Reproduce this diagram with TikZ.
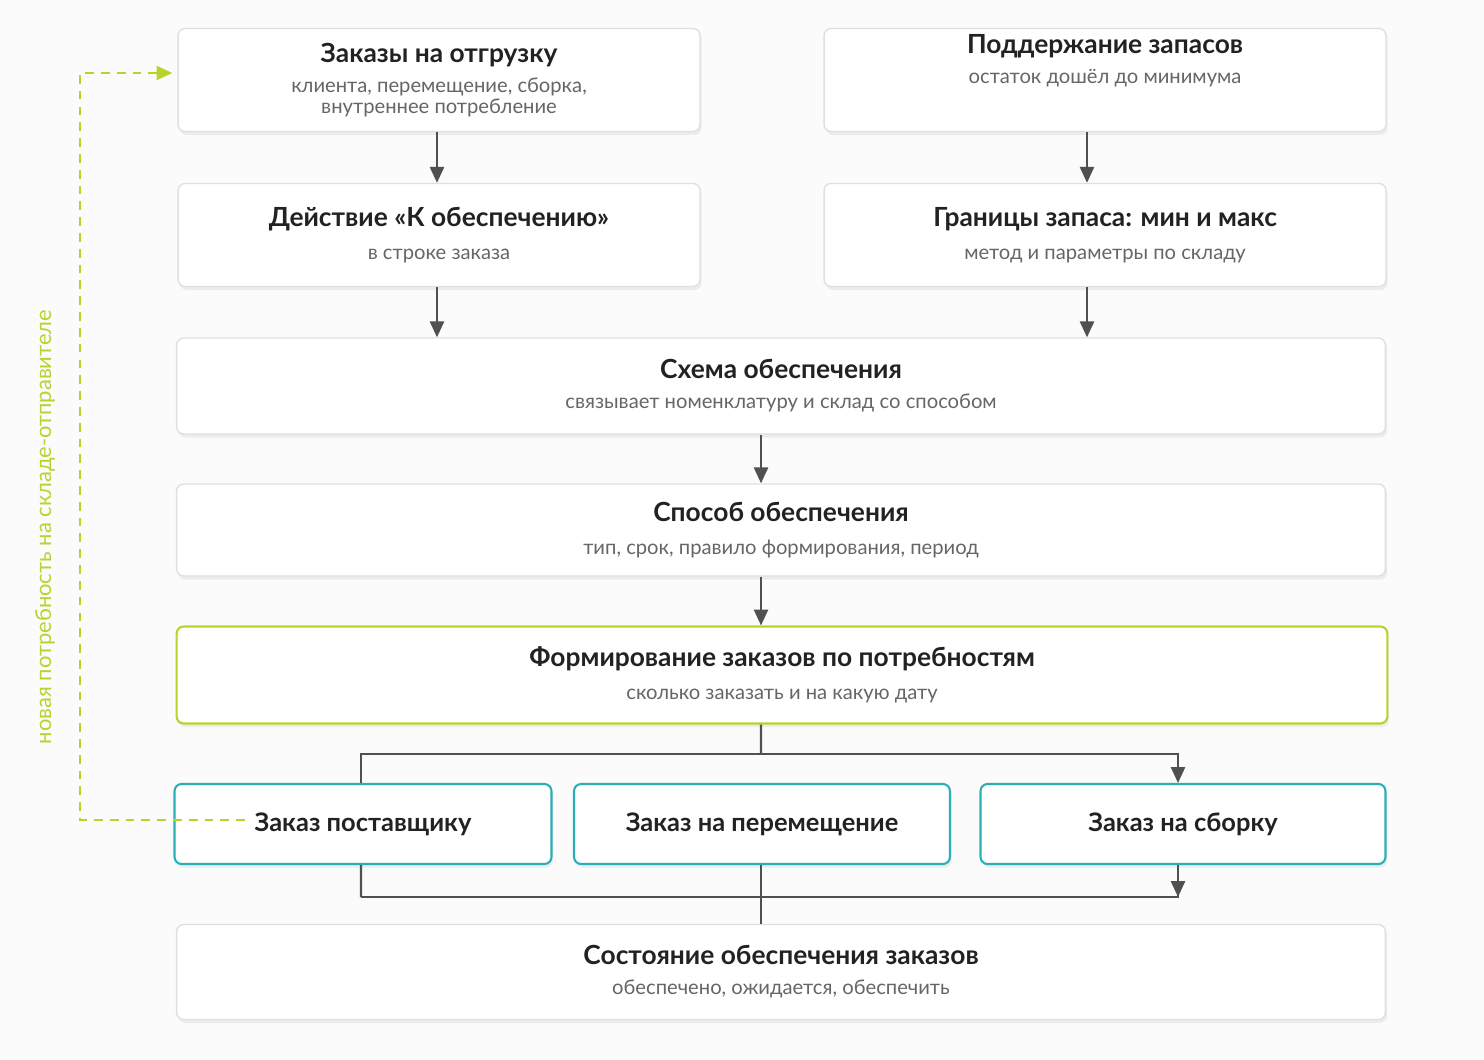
\documentclass[tikz,border=0pt]{standalone}
\usepackage{fontspec}
\setmainfont{Lato}
\usetikzlibrary{arrows.meta,shadows,calc}
\definecolor{ink}{HTML}{222222}
\definecolor{subink}{HTML}{666666}
\definecolor{lime}{HTML}{B7D42E}
\definecolor{teal}{HTML}{2BAFB6}
\definecolor{rule}{HTML}{505050}
\newcommand{\boxtitle}{\fontsize{15}{18}\selectfont\bfseries\color{ink}}
\newcommand{\boxsub}{\fontsize{11.5}{13.5}\selectfont\mdseries\color{subink}}
\begin{document}
\begin{tikzpicture}[x=0.02cm,y=-0.02cm]
  \tikzset{
    card/.style={draw=black!12, fill=white, rounded corners=4pt, line width=0.8pt,
      align=center, inner sep=0pt, drop shadow={opacity=0.12,shadow xshift=1pt,shadow yshift=-2pt}},
    pick/.style={card, draw=lime, line width=1.2pt},
    order/.style={card, draw=teal, line width=1.2pt, font=\fontsize{14.5}{17}\selectfont\bfseries\color{ink}, minimum height=1.6cm},
    arr/.style={draw=rule, line width=1.2pt, -{Triangle[length=9pt,width=8pt]}},
    wire/.style={draw=rule, line width=1.2pt},
    fback/.style={draw=lime, line width=1.2pt, dash pattern=on 5pt off 4pt}
  }
  \fill[white!97!gray] (0,0) rectangle (1484,1060);
  \useasboundingbox (0,0) rectangle (1484,1060);
  % upper cards
  \node[card, minimum width=10.44cm, minimum height=2.06cm] (ship) at (439,80)
    {\boxtitle Заказы на отгрузку\\[5pt]\boxsub клиента, перемещение, сборка,\\\boxsub внутреннее потребление};
  \node[card, minimum width=11.24cm, minimum height=2.06cm] (stock) at (1105,80)
    {\boxtitle Поддержание запасов\\[5pt]\boxsub остаток дошёл до минимума\\[12pt]};
  \node[card, minimum width=10.44cm, minimum height=2.06cm] (act) at (439,235)
    {\boxtitle Действие «К обеспечению»\\[7pt]\boxsub в строке заказа};
  \node[card, minimum width=11.24cm, minimum height=2.06cm] (bounds) at (1105,235)
    {\boxtitle Границы запаса: мин и макс\\[7pt]\boxsub метод и параметры по складу};
  \node[card, minimum width=24.18cm, minimum height=1.92cm] (scheme) at (781,386)
    {\boxtitle Схема обеспечения\\[5pt]\boxsub связывает номенклатуру и склад со способом};
  \node[card, minimum width=24.18cm, minimum height=1.84cm] (way) at (781,530)
    {\boxtitle Способ обеспечения\\[7pt]\boxsub тип, срок, правило формирования, период};
  \node[pick, minimum width=24.22cm, minimum height=1.94cm] (form) at (782,675)
    {\boxtitle Формирование заказов по потребностям\\[7pt]\boxsub сколько заказать и на какую дату};
  % orders
  \node[order, minimum width=7.54cm] (sup) at (363,824) {Заказ поставщику};
  \node[order, minimum width=7.52cm] (move) at (762,824) {Заказ на перемещение};
  \node[order, minimum width=8.1cm] (asm) at (1183,824) {Заказ на сборку};
  \node[card, minimum width=24.18cm, minimum height=1.9cm] (state) at (781,972)
    {\boxtitle Состояние обеспечения заказов\\[5pt]\boxsub обеспечено, ожидается, обеспечить};
  % flow
  \draw[arr] ([xshift=-0.04cm]ship.south) -- ([xshift=-0.04cm]act.north);
  \draw[arr] ([xshift=-0.36cm]stock.south) -- ([xshift=-0.36cm]bounds.north);
  \draw[arr] ([xshift=-0.04cm]act.south) -- ([xshift=-0.04cm]act.south |- scheme.north);
  \draw[arr] ([xshift=-0.36cm]bounds.south) -- ([xshift=-0.36cm]bounds.south |- scheme.north);
  \draw[arr] ([xshift=-0.4cm]scheme.south) -- ([xshift=-0.4cm]way.north);
  \draw[arr] ([xshift=-0.4cm]way.south) -- ([xshift=-0.42cm]form.north);
  \coordinate (top) at (761,754);
  \coordinate (bot) at (361,897);
  \draw[wire] ([xshift=-0.42cm]form.south) -- (top);
  \draw[wire] ([xshift=-0.04cm]sup.north) |- (top);
  \draw[arr] (top) -| ([xshift=-0.1cm]asm.north);
  \draw[wire] ([xshift=-0.04cm]sup.south) -- (bot);
  \draw[arr] ([xshift=-0.1cm]asm.south) -- ([xshift=-0.1cm]asm.south |- bot);
  \draw[wire] (bot) -| ([xshift=-0.1cm]asm.south);
  \draw[wire] ([xshift=-0.02cm]move.south) -- ([xshift=-0.02cm]move.south |- state.north);
  % feedback
  \coordinate (back) at (245,820);
  \coordinate (turn) at (80,73);
  \draw[fback, -{Triangle[length=9pt,width=8pt]}] (back) -| (turn) -- ([xshift=-0.1cm]ship.west |- turn);
  \node[rotate=90, font=\fontsize{12.5}{15}\selectfont, text=lime] (need) at (45,527)
    {новая потребность на складе-отправителе};
\end{tikzpicture}
\end{document}
